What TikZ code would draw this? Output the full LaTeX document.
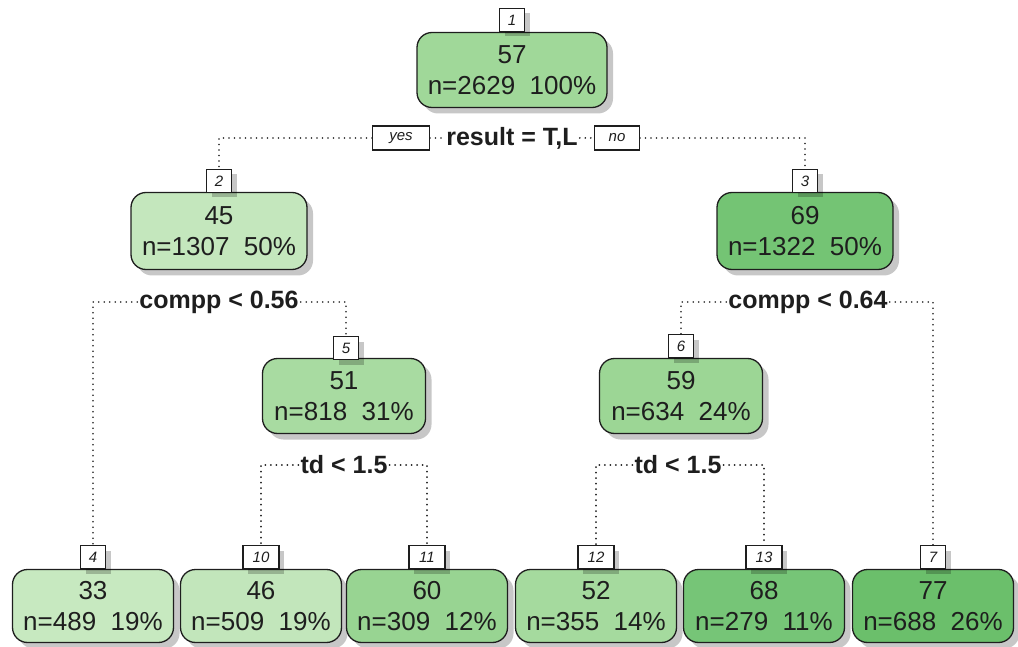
\documentclass[tikz,border=0pt]{standalone}
\usepackage{fontspec}
\setmainfont{Liberation Sans}
\usetikzlibrary{shadows}

\definecolor{gA}{HTML}{C7E9C0}% 33
\definecolor{gB}{HTML}{C4E7BD}% 45
\definecolor{gC}{HTML}{C2E6BB}% 46
\definecolor{gD}{HTML}{A8DBA1}% 51
\definecolor{gE}{HTML}{A5DA9E}% 52
\definecolor{gF}{HTML}{A0D899}% 57
\definecolor{gG}{HTML}{9CD695}% 59
\definecolor{gH}{HTML}{98D492}% 60
\definecolor{gI}{HTML}{76C577}% 68
\definecolor{gJ}{HTML}{74C474}% 69
\definecolor{gK}{HTML}{6BBF6B}% 77
\definecolor{ink}{HTML}{1E1E1E}

\tikzset{
  leaf/.style={draw=ink, line width=1.3pt, rounded corners=15pt, align=center,
    inner sep=0pt, text=ink, font=\fontsize{26}{31}\selectfont,
    drop shadow={shadow xshift=6pt, shadow yshift=-6pt, fill=black, opacity=0.22}},
  wide/.style={minimum width=190pt, minimum height=75pt},
  mid/.style={minimum width=176pt, minimum height=77pt},
  low/.style={minimum width=163pt, minimum height=75pt},
  bot/.style={minimum width=161pt, minimum height=73pt},
  tag/.style={draw=ink, line width=1.2pt, fill=white, inner sep=0pt,
    minimum width=25pt, minimum height=23pt, text=ink,
    font=\fontsize{15}{15}\selectfont\itshape,
    drop shadow={shadow xshift=5pt, shadow yshift=-5pt, fill=black, opacity=0.22}},
  wtag/.style={tag, minimum width=36pt},
  yn/.style={draw=ink, line width=1.1pt, fill=white, inner sep=0pt,
    minimum height=24pt, text=ink, font=\fontsize{15}{15}\selectfont\itshape},
  rule/.style={text=ink, inner sep=2pt, font=\fontsize{25}{25}\selectfont\bfseries},
  dots/.style={draw=ink, line width=1.8pt, line cap=round, dash pattern=on 0pt off 5.5pt}
}

\begin{document}
\begin{tikzpicture}[x=1pt, y=-1pt]
\useasboundingbox (0,0) rectangle (1018,647);

% tree nodes
\node[leaf, wide, fill=gF] (n1) at (512,70)  {57\\n=2629~~100\%};
\node[leaf, mid,  fill=gB] (n2) at (219,231) {45\\n=1307~~50\%};
\node[leaf, mid,  fill=gJ] (n3) at (805,231) {69\\n=1322~~50\%};
\node[leaf, low,  fill=gD] (n5) at (344,396) {51\\n=818~~31\%};
\node[leaf, low,  fill=gG] (n6) at (681,396) {59\\n=634~~24\%};
\node[leaf, bot,  fill=gA] (n4)  at (93,606)  {33\\n=489~~19\%};
\node[leaf, bot,  fill=gC] (n10) at (261,606) {46\\n=509~~19\%};
\node[leaf, bot,  fill=gH] (n11) at (427,606) {60\\n=309~~12\%};
\node[leaf, bot,  fill=gE] (n12) at (596,606) {52\\n=355~~14\%};
\node[leaf, bot,  fill=gI] (n13) at (764,606) {68\\n=279~~11\%};
\node[leaf, bot,  fill=gK] (n7)  at (933,606) {77\\n=688~~26\%};

% node number tags
\node[tag]  (l1)  at (512,20)  {1};
\node[tag]  (l2)  at (219,181) {2};
\node[tag]  (l3)  at (805,181) {3};
\node[tag]  (l5)  at (346,348) {5};
\node[tag]  (l6)  at (681,346) {6};
\node[tag]  (l4)  at (93,557)  {4};
\node[wtag] (l10) at (261,557) {10};
\node[wtag] (l11) at (427,557) {11};
\node[wtag] (l12) at (596,557) {12};
\node[wtag] (l13) at (764,557) {13};
\node[tag]  (l7)  at (933,557) {7};

% split rules
\node[rule] (s1) at (512,138) {result = T,L};
\node[yn, minimum width=57pt] (yes) at (401,138) {yes};
\node[yn, minimum width=45pt] (no)  at (617,138) {no};
\node[rule] (s2) at (219,302) {compp < 0.56};
\node[rule] (s3) at (808,302) {compp < 0.64};
\node[rule] (s5) at (344,465) {td < 1.5};
\node[rule] (s6) at (678,465) {td < 1.5};

% dotted connectors
\draw[dots] (yes.west) -| (l2.north);
\draw[dots] (yes.east) -- (s1.west);
\draw[dots] (s1.east) -- (no.west);
\draw[dots] (no.east) -| (l3.north);
\draw[dots] (s2.west) -| (l4.north);
\draw[dots] (s2.east) -| (l5.north);
\draw[dots] (s3.west) -| (l6.north);
\draw[dots] (s3.east) -| (l7.north);
\draw[dots] (s5.west) -| (l10.north);
\draw[dots] (s5.east) -| (l11.north);
\draw[dots] (s6.west) -| (l12.north);
\draw[dots] (s6.east) -| (l13.north);
\end{tikzpicture}
\end{document}
